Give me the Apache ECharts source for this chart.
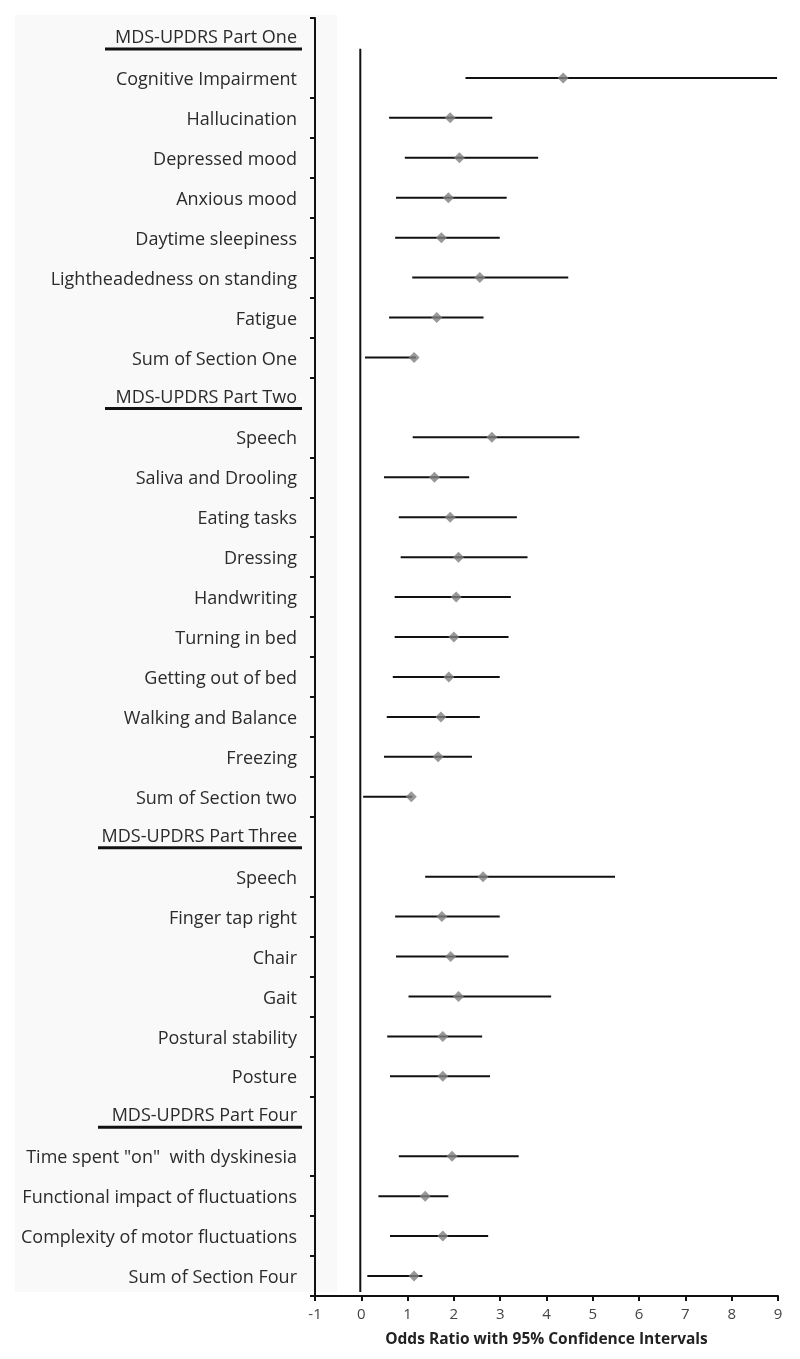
<!DOCTYPE html>
<html><head><meta charset="utf-8">
<script src="https://cdn.jsdelivr.net/npm/echarts@6/dist/echarts.min.js"></script>
<style>html,body{margin:0;padding:0;background:#fff}#c{width:800px;height:1359px}</style>
</head><body><div id="c"></div>
<script>
const categories = [
  'MDS-UPDRS Part One',
  'Cognitive Impairment', 'Hallucination', 'Depressed mood', 'Anxious mood',
  'Daytime sleepiness', 'Lightheadedness on standing', 'Fatigue', 'Sum of Section One',
  'MDS-UPDRS Part Two',
  'Speech', 'Saliva and Drooling', 'Eating tasks', 'Dressing', 'Handwriting',
  'Turning in bed', 'Getting out of bed', 'Walking and Balance', 'Freezing', 'Sum of Section two',
  'MDS-UPDRS Part Three',
  'Speech', 'Finger tap right', 'Chair', 'Gait', 'Postural stability', 'Posture',
  'MDS-UPDRS Part Four',
  'Time spent "on"  with dyskinesia', 'Functional impact of fluctuations',
  'Complexity of motor fluctuations', 'Sum of Section Four'
];
const oddsRatio = [
  null, 4.36, 1.92, 2.12, 1.88, 1.73, 2.56, 1.63, 1.14,
  null, 2.82, 1.58, 1.92, 2.10, 2.05, 2.00, 1.89, 1.72, 1.66, 1.08,
  null, 2.63, 1.74, 1.93, 2.10, 1.76, 1.76,
  null, 1.96, 1.38, 1.76, 1.14
];
const lowerCI = [
  null, 2.25, 0.60, 0.94, 0.75, 0.73, 1.10, 0.60, 0.08,
  null, 1.11, 0.49, 0.81, 0.85, 0.72, 0.72, 0.68, 0.55, 0.49, 0.04,
  null, 1.38, 0.73, 0.75, 1.02, 0.56, 0.62,
  null, 0.81, 0.37, 0.62, 0.13
];
const upperCI = [
  null, 8.98, 2.83, 3.82, 3.14, 2.99, 4.47, 2.64, 1.18,
  null, 4.71, 2.33, 3.36, 3.59, 3.23, 3.18, 2.99, 2.56, 2.39, 1.10,
  null, 5.48, 2.99, 3.18, 4.10, 2.61, 2.78,
  null, 3.40, 1.88, 2.74, 1.32
];
const xMin = -1, xMax = 9, xStep = 1;
const axisTitle = 'Odds Ratio with 95% Confidence Intervals';

const isHeader = i => oddsRatio[i] == null;
const barData = [], pointData = [];
categories.forEach((c, i) => {
  if (!isHeader(i)) {
    barData.push([lowerCI[i], upperCI[i], i]);
    pointData.push([oddsRatio[i], i]);
  }
});

const chart = echarts.init(document.getElementById('c'), null, {renderer: 'canvas'});
const FONT = '"Open Sans", sans-serif';
const TXT = '#2b2b2b';
chart.setOption({
  backgroundColor: '#ffffff',
  animation: false,
  graphic: [{
    type: 'rect', left: 15, top: 15, z: -10, silent: true,
    shape: {width: 322, height: 1277},
    style: {fill: '#f9f9f9'}
  }],
  grid: {left: 315, right: 22, top: 18, bottom: 63, containLabel: false},
  xAxis: {
    type: 'value', min: xMin, max: xMax, interval: xStep,
    name: axisTitle, nameLocation: 'middle', nameGap: 36,
    nameTextStyle: {fontFamily: FONT, fontSize: 15.5, fontWeight: 'bold', color: '#222'},
    axisLine: {show: true, onZero: false, lineStyle: {color: '#111', width: 2}},
    axisTick: {show: true, length: 5, lineStyle: {color: '#111', width: 2}},
    axisLabel: {fontFamily: FONT, fontSize: 15, color: '#444', margin: 11},
    splitLine: {show: false}
  },
  yAxis: {
    type: 'category', data: categories, inverse: true, boundaryGap: true,
    axisLine: {show: true, onZero: false, lineStyle: {color: '#111', width: 2}},
    axisTick: {
      show: true, length: 5, lineStyle: {color: '#111', width: 2},
      interval: function (idx) { return !(idx > 0 && isHeader(idx - 1)); }
    },
    axisLabel: {
      interval: 0, margin: 13, align: 'right',
      fontFamily: FONT, fontSize: 18, color: TXT,
      formatter: function (v, i) {
        if (isHeader(i)) {
          const u = /Three|Four/.test(v) ? 'u2' : 'u1';
          return '{s| }\n{h|' + v + '}\n{g| }\n{' + u + '|}';
        }
        return '{n|' + v + '}';
      },
      rich: {
        n: {fontFamily: FONT, fontSize: 18, color: TXT, padding: [4, 5, 0, 0]},
        h: {fontFamily: FONT, fontSize: 18, color: TXT, padding: [3, 5, 0, 0], lineHeight: 18},
        s: {fontSize: 1, lineHeight: 2, height: 2},
        g: {fontSize: 1, lineHeight: 2, height: 2},
        u1: {width: 197, height: 3, lineHeight: 3, backgroundColor: '#111'},
        u2: {width: 204, height: 3, lineHeight: 3, backgroundColor: '#111'}
      }
    },
    splitLine: {show: false}
  },
  series: [
    {
      type: 'custom', name: 'zero', silent: true, z: 1,
      data: [[0]],
      encode: {x: 0},
      renderItem: function (params, api) {
        const first = api.coord([0, 0]);
        const last = api.coord([0, categories.length - 1]);
        const band = api.size([0, 1])[1];
        return {
          type: 'line',
          shape: {x1: first[0] - 1, y1: first[1] + band * 0.27, x2: last[0] - 1, y2: last[1] + band * 0.4},
          style: {stroke: '#111', lineWidth: 2}
        };
      }
    },
    {
      type: 'custom', name: 'ci', silent: true, z: 2,
      data: barData,
      encode: {x: [0, 1], y: 2},
      renderItem: function (params, api) {
        const y = api.value(2);
        const p1 = api.coord([api.value(0), y]);
        const p2 = api.coord([api.value(1), y]);
        return {
          type: 'line',
          shape: {x1: p1[0], y1: p1[1], x2: p2[0], y2: p2[1]},
          style: {stroke: '#111', lineWidth: 2}
        };
      }
    },
    {
      type: 'scatter', name: 'OR', silent: true, z: 3,
      symbol: 'diamond', symbolSize: [11, 11],
      itemStyle: {color: '#7f7f7f'},
      data: pointData
    }
  ]
});
</script></body></html>
